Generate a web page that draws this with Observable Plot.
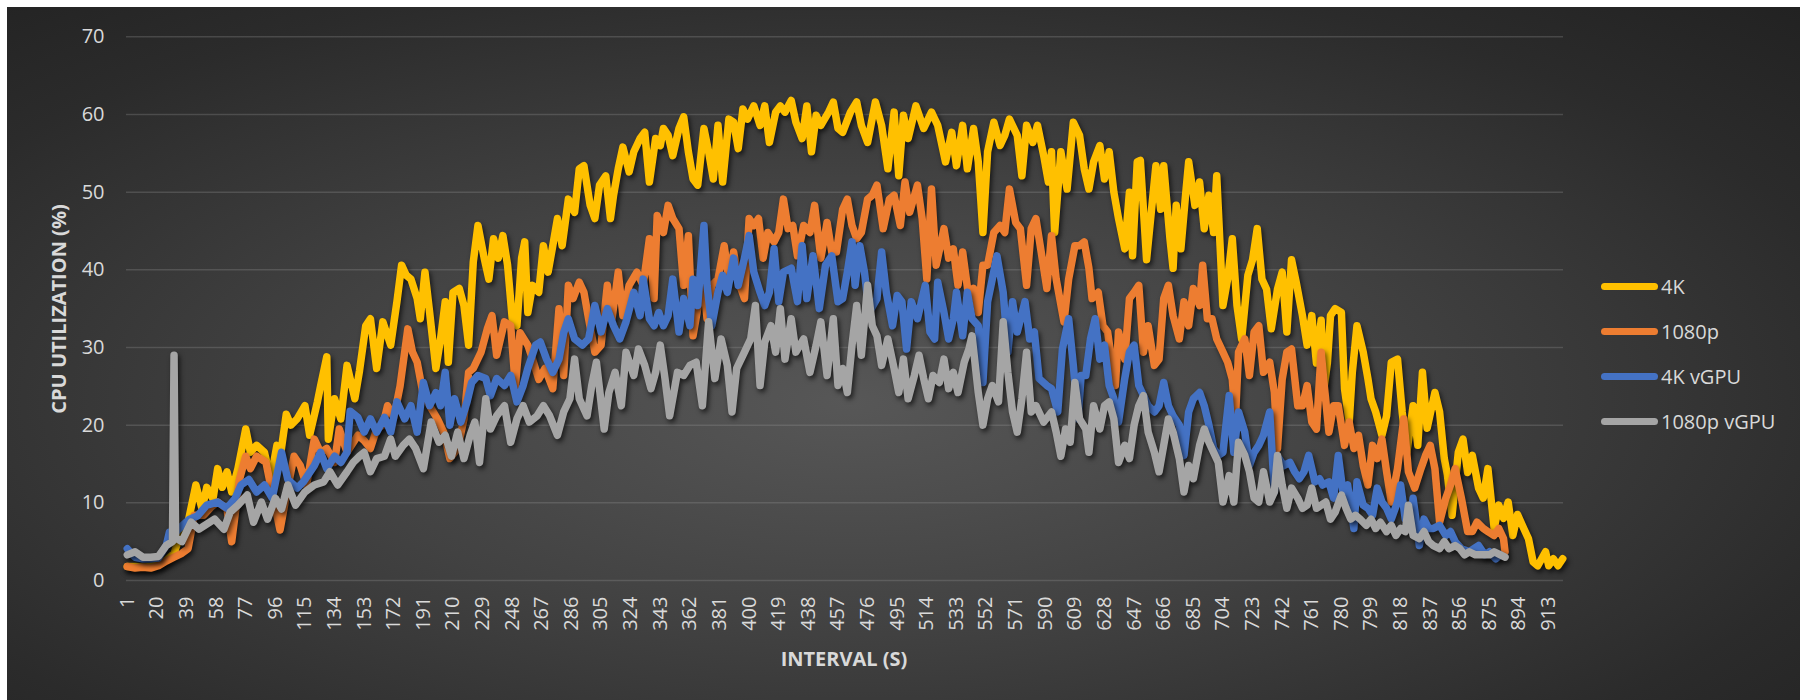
<!DOCTYPE html>
<html>
<head>
<meta charset="utf-8">
<script src="https://cdn.jsdelivr.net/npm/d3@7"></script>
<script src="https://cdn.jsdelivr.net/npm/@observablehq/plot@0.6"></script>
<style>
  html, body { margin: 0; padding: 0; background: #ffffff; }
  body { width: 1800px; height: 700px; overflow: hidden; position: relative; font-family: "Open Sans", "Noto Sans", sans-serif; }
  #panel {
    position: absolute; left: 7px; top: 7px; width: 1793px; height: 693px;
    background: radial-gradient(ellipse farthest-corner at 47% 57%, #575757 0%, #424242 40%, #2b2b2b 78%, #222222 100%);
    overflow: hidden;
  }
  #chart { position: absolute; left: 0; top: 0; }
  .ytitle {
    position: absolute; left: 51px; top: 302px; color: #d9d9d9; font-weight: 700; font-size: 20px;
    transform: translate(-50%, -50%) rotate(-90deg); white-space: nowrap;
  }
  .xtitle {
    position: absolute; left: 837px; top: 651px; color: #d9d9d9; font-weight: 700; font-size: 20px;
    transform: translate(-50%, -50%); white-space: nowrap;
  }
  .legend { position: absolute; left: 1594px; top: 0; }
  .item { position: absolute; left: 0; height: 30px; display: flex; align-items: center; white-space: nowrap; color: #d9d9d9; font-size: 20px; transform: translateY(-50%); }
  .swatch { width: 57px; height: 7px; border-radius: 4px; margin-right: 3px; }
</style>
</head>
<body>
<div id="panel">
  <div id="chart"></div>
  <div class="ytitle">CPU UTILIZATION (%)</div>
  <div class="xtitle">INTERVAL (S)</div>
  <div class="legend" id="legend"></div>
</div>
<script>
// Series names and colours
const seriesNames = ["4K", "1080p", "4K vGPU", "1080p vGPU"];
const seriesColors = ["#FFC000", "#ED7D31", "#4472C4", "#A5A5A5"];

// x tick labels (interval, seconds)
const tickLabels = [1,20,39,58,77,96,115,134,153,172,191,210,229,248,267,286,305,324,343,362,381,400,419,438,457,476,495,514,533,552,571,590,609,628,647,666,685,704,723,742,761,780,799,818,837,856,875,894,913];
const yTicks = [0,10,20,30,40,50,60,70];

// [interval, CPU utilization %]
const k4 = [[1,1.8],[6,1.8],[11,1.7],[16,1.8],[21,2.0],[26,2.6],[31,3.5],[36,6.5],[40,7.5],[45,12.3],[49,9.2],[52,12],[56,10.5],[59,14.4],[62,12],[65,14],[68,11.4],[72,14.4],[77,19.5],[80,16.5],[84,17.4],[89,16.5],[93,13],[97,17.4],[99,15.7],[103,21.4],[106,20],[110,20.8],[115,22.5],[118,18.7],[123,23],[125,25],[129,28.8],[130,18.2],[134,23.4],[138,20.8],[142,27.7],[144,26],[147,23.4],[150,27],[154,32.8],[157,33.7],[161,27.3],[165,33.3],[170,30.3],[174,35.9],[177,40.6],[180,39.3],[183,38.8],[187,36.3],[189,33.7],[192,39.7],[195,34.5],[199,27.3],[202,31.1],[205,35.9],[207,28.1],[210,37.1],[214,37.6],[217,35.4],[220,30.3],[223,41],[226,45.7],[230,41.5],[233,38.8],[236,44],[239,41.5],[242,44.4],[245,40.6],[248,33.7],[251,32.8],[254,41.5],[256,43.6],[258,34.5],[261,38],[265,37.1],[268,43.1],[271,39.7],[274,43.1],[277,46.6],[280,43.1],[284,49.1],[288,47.4],[291,53],[294,53.4],[298,48.3],[301,46.6],[304,50.9],[308,52.1],[311,46.6],[313,49.6],[316,53],[319,55.8],[323,52.6],[326,55.2],[330,56.9],[333,57.7],[336,51.3],[340,56.9],[343,56],[345,58.2],[348,57.3],[351,54.7],[355,58.2],[358,59.7],[361,55.2],[364,51.7],[367,50.9],[371,58.2],[374,55.2],[377,51.7],[380,58.6],[383,51.3],[387,59.4],[390,59],[393,55.6],[396,60.7],[399,59.4],[403,61.1],[407,58.6],[410,61.1],[413,56.4],[417,60.3],[420,61.1],[423,60.3],[427,61.8],[430,59],[434,56.9],[437,61.1],[440,55.2],[443,59.9],[446,58.6],[451,60.3],[454,61.6],[457,58.2],[460,57.7],[465,60.3],[469,61.6],[472,58.6],[476,56.4],[481,61.6],[485,58.6],[489,53],[493,60.3],[496,52.1],[499,59.9],[502,56.9],[507,61.1],[512,58.2],[517,60.3],[521,58.6],[526,53.9],[530,57.7],[533,53.4],[537,58.6],[540,53],[544,58.2],[547,53.9],[550,44.8],[553,55.2],[557,59],[561,56],[564,57.3],[567,59.4],[572,57.3],[575,52.1],[578,58.6],[582,56.4],[585,58.6],[589,54.7],[592,51.3],[594,55.2],[596,44.8],[600,55.2],[604,50.4],[608,59],[612,57.3],[615,53],[618,50.4],[621,53.9],[625,56],[628,51.7],[631,55.2],[634,50],[637,46.6],[641,42.7],[644,50],[646,41.8],[649,53.9],[651,54.1],[655,41.3],[658,47.4],[661,53.4],[664,47.8],[666,53.4],[670,44],[672,40.2],[674,48.3],[677,42.7],[680,49.6],[682,53.9],[686,48.3],[689,51.3],[692,45.3],[695,49.6],[698,44.8],[700,52.1],[704,35.4],[707,38.8],[710,44],[713,35.4],[716,31.1],[720,39.3],[723,41.3],[726,45.3],[729,38.8],[732,37.5],[735,32.4],[739,37.5],[742,39.7],[745,32],[748,41.3],[751,38.4],[755,34.1],[758,30.3],[761,34.1],[764,28],[767,33.5],[769,25],[771,28],[773,34.1],[776,35],[780,34.5],[782,24.7],[785,20.4],[787,26.8],[790,32.8],[794,29.4],[797,26],[799,23.4],[802,21.7],[806,18.7],[809,21.2],[812,28.1],[816,28.5],[819,21.7],[822,16.5],[826,22.5],[829,17.4],[832,26.8],[835,19.6],[840,24.2],[843,21.7],[846,15.7],[848,13.6],[851,8.4],[855,16.5],[858,18.2],[861,13.9],[864,16.1],[868,11.9],[871,10.6],[874,14.4],[878,6.7],[881,9.7],[884,8],[887,10.1],[890,5.8],[893,8.5],[897,6.7],[900,5.4],[903,2.4],[906,1.9],[911,3.7],[913,1.9],[916,2.8],[919,1.9],[922,2.8]];

const p1080 = [[1,1.8],[6,1.6],[11,1.7],[16,1.6],[21,1.9],[26,2.5],[31,3.0],[36,3.5],[40,4.1],[44,8.4],[50,8.4],[55,9.5],[59,10.1],[65,9.2],[68,5],[73,13],[77,16],[80,14.4],[84,16],[90,15.2],[93,12.2],[99,6.5],[104,12],[108,16],[112,14.8],[116,12.2],[121,18.2],[125,16.5],[129,17],[134,15.2],[137,19.5],[142,16.5],[149,18.7],[153,18],[157,17],[161,19.5],[165,20],[168,22.5],[172,21],[176,25],[181,32.4],[184,29.4],[187,28.1],[191,23.8],[195,22.5],[200,20.8],[204,19.1],[208,15.7],[213,17],[217,20.8],[220,26.8],[223,27.3],[228,29.4],[232,32.4],[235,34.1],[238,29],[243,33.3],[247,32.8],[250,25],[253,31.9],[258,30.3],[261,28.5],[265,25.9],[269,27.3],[274,24.7],[278,35],[281,26.4],[284,38],[287,36.3],[291,38.4],[294,37.1],[297,33.7],[301,29.4],[305,30.3],[309,38],[312,33.7],[316,39.7],[319,34.1],[323,38],[328,39.7],[332,38],[336,44],[339,36.3],[341,47],[345,44.8],[348,48.3],[351,46.6],[355,45.3],[358,38],[361,44.4],[364,31.5],[367,35],[370,39.7],[373,33.7],[376,38],[380,38.8],[384,43.1],[387,38.8],[390,42.3],[394,38],[397,36.3],[400,46.6],[403,45.7],[406,46.6],[409,41.5],[412,44.8],[416,43.6],[419,44.8],[422,49.1],[425,45.3],[428,45.7],[431,41.8],[435,45.7],[439,44.8],[442,48.3],[446,41.5],[450,46.1],[453,42.3],[456,42.3],[460,47.8],[463,49.1],[466,45.7],[469,44],[472,44.8],[476,49.1],[479,49.6],[482,50.9],[486,45.3],[490,49.1],[493,49.6],[497,45.7],[500,51.3],[503,47.4],[508,50.9],[511,46.6],[514,38.8],[517,50.4],[520,40.6],[525,45.3],[528,41.5],[531,42.7],[534,38],[537,42.3],[541,36.3],[544,37.6],[547,34.5],[550,40.6],[553,40.6],[557,44.8],[561,45.7],[564,44.8],[567,50.4],[571,46.1],[574,45.3],[578,38],[581,45.3],[584,46.6],[588,41.5],[591,37.6],[594,44.4],[597,38.8],[602,33.3],[605,38.8],[609,43.1],[612,43.1],[615,43.6],[618,40.2],[620,36.3],[624,37.1],[627,32.8],[630,32],[633,27.7],[635,25.1],[637,32],[641,28.5],[644,36.3],[647,37.1],[650,38],[653,29.4],[656,32.8],[660,27.7],[663,28.5],[666,36.3],[669,38],[672,34.1],[676,31.1],[679,35.9],[682,32.8],[685,37.6],[689,35.4],[691,40.6],[694,33.7],[697,33.7],[700,31.1],[704,29.4],[707,28.1],[710,25.9],[712,20.8],[714,29.4],[718,31.1],[721,26.4],[724,32],[727,32.8],[730,26.8],[734,28.1],[737,24.2],[739,17],[742,25.9],[745,29.4],[748,29.8],[752,22.5],[755,22.5],[758,25.1],[761,20.4],[764,19.5],[767,29.4],[769,25.1],[772,19.1],[775,22.5],[778,22.5],[782,17.4],[785,20.4],[788,17],[791,18.7],[794,14.8],[797,12.3],[800,17.4],[803,15.7],[806,18.2],[809,14],[812,10.1],[816,14.4],[820,20.8],[823,14],[827,11.9],[831,14.4],[834,16.1],[837,17.4],[840,14.4],[843,7.5],[847,10.6],[850,12.3],[853,14.4],[857,10.6],[861,6.3],[864,6.3],[867,7.5],[871,6.7],[874,6.3],[878,5.8],[881,6.7],[884,5.4],[885,3.7]];

const k4vgpu = [[1,4.1],[6,3.0],[11,2.8],[16,2.8],[21,2.9],[26,4.5],[28,6.2],[31,6],[36,7],[41,7.9],[46,8.3],[52,9.7],[59,10.1],[65,9.3],[70,10.5],[74,12.3],[79,13],[84,11.4],[89,12.3],[94,10.6],[100,16.5],[104,13],[110,11.9],[114,12.7],[121,14.8],[125,16.5],[129,14.4],[134,16],[138,15.2],[142,16.5],[144,21.8],[149,21],[153,19.1],[157,20.8],[161,19.1],[166,21],[170,19.1],[174,23],[179,20.8],[183,22.5],[187,19.1],[191,25.5],[195,22.5],[199,24.2],[202,22.5],[205,26.8],[208,20],[211,23.4],[215,20.4],[219,23],[222,25.5],[226,26.4],[231,26],[234,23.8],[238,26],[243,25.1],[247,26.4],[251,23],[255,25.1],[258,27.3],[263,30.3],[266,30.7],[270,28.5],[274,26.8],[278,28.5],[281,31.9],[284,33.7],[288,31.1],[293,30.3],[297,31.1],[301,35.4],[305,32],[309,35],[313,32.8],[317,31.1],[321,33.3],[326,37.1],[330,34.1],[332,38.8],[336,33.7],[339,32.8],[342,34.5],[345,32.8],[348,34.1],[351,38.8],[355,32],[358,36.3],[362,32.8],[364,38.8],[367,35.4],[371,45.7],[373,38],[376,32.8],[380,37.1],[383,39.3],[386,37.1],[390,41.5],[393,38],[397,41.5],[400,44.4],[403,39.7],[407,37.1],[410,35.4],[413,37.1],[416,42.7],[419,35.9],[422,39.7],[427,40.2],[431,35.9],[434,43.1],[437,36.3],[441,41.8],[445,35],[449,40.6],[453,41.8],[457,35.9],[460,36.3],[463,39.7],[466,43.6],[468,38],[471,43.1],[474,39.7],[477,34.5],[482,36.3],[485,42.3],[488,37.1],[492,32.8],[495,36.7],[498,35.9],[501,29.8],[504,35.9],[508,33.7],[511,36.3],[513,38],[516,32],[519,31.1],[521,38.4],[525,34.5],[528,31.1],[531,33.7],[533,37.1],[537,31.5],[540,37.1],[543,33.7],[547,32.8],[550,25.5],[553,35.9],[556,38.8],[559,41.8],[563,37.1],[566,29.4],[569,35.9],[572,32],[577,35.9],[580,31.1],[583,32],[586,26],[591,25.1],[594,24.7],[598,21.7],[601,29.8],[605,33.7],[608,27.7],[611,20.8],[613,26.4],[616,26.4],[619,31.1],[622,33.7],[625,28.5],[628,30.3],[631,25.1],[634,23.4],[637,20.4],[641,26],[644,29.4],[647,30.3],[650,25.1],[653,23.8],[656,22.5],[660,21.7],[663,22.5],[666,25.5],[669,22.5],[672,21.2],[676,20],[679,16.1],[682,21.7],[685,23.4],[689,24.2],[692,22.5],[695,20],[698,17],[701,16.1],[704,16.5],[708,23.8],[711,16.5],[714,21.7],[718,19.1],[721,14.8],[724,16.5],[727,17.4],[730,18.7],[734,21.7],[737,11.4],[740,15.7],[743,14.8],[747,15.2],[750,14],[753,13.1],[756,14],[759,16.1],[763,12.7],[766,13.1],[768,12.3],[772,12.7],[775,10.6],[778,16.1],[781,11.4],[784,12.3],[788,6.7],[790,12.7],[794,9.7],[797,9.3],[800,8.4],[803,11.9],[806,10.1],[809,9.3],[812,7.9],[816,10.1],[818,12.3],[821,7.9],[824,7.1],[826,10.6],[830,4.5],[833,7.9],[836,6.7],[839,6.7],[843,7.1],[847,5.8],[850,6.3],[853,5],[857,4.1],[862,3.7],[865,4.1],[868,4.5],[872,3.3],[875,3.7],[879,2.8],[882,3.3]];

const p1080vgpu = [[1,3.3],[6,3.7],[11,3.0],[16,3.0],[21,3.1],[26,4.5],[30,5],[31,29],[32,5.5],[36,5],[42,7.5],[47,6.6],[50,7],[57,7.9],[63,6.6],[67,8.8],[72,9.7],[78,11],[82,7.5],[87,10.1],[91,7.9],[96,10.6],[100,9.2],[104,12.3],[109,9.7],[115,11.4],[121,12.3],[127,12.7],[131,14],[136,12.3],[142,14],[146,15.2],[150,16],[153,16.5],[157,14],[161,15.7],[166,16],[170,18.2],[173,16],[178,17.4],[182,18.2],[186,17],[191,14.4],[196,20.4],[201,17.8],[205,18.7],[209,16],[213,19.1],[217,15.7],[221,18.7],[224,20.4],[227,15.2],[231,23.4],[234,19.5],[238,21.2],[243,22.5],[247,17.8],[251,20.8],[255,22.5],[259,20.4],[264,21.2],[268,22.5],[272,21.2],[277,18.7],[281,21.7],[285,23.4],[288,28.5],[291,23.4],[296,21.2],[299,25.1],[302,28.1],[307,19.5],[310,24.2],[314,26.8],[318,22.5],[321,29.4],[326,26.4],[329,29.8],[333,27.7],[337,24.7],[340,26.8],[343,30.3],[346,26],[349,21.2],[354,26.8],[358,26.4],[362,27.7],[366,28.1],[370,22.5],[374,33.3],[378,26],[382,31.1],[386,27.7],[389,21.7],[392,27.3],[397,29.4],[401,31.1],[404,35.4],[407,25.1],[410,30.7],[414,32.8],[417,29.4],[420,35],[423,28.5],[427,33.7],[430,29.4],[435,31.1],[439,26.8],[443,30.3],[446,33.3],[450,26.4],[454,33.7],[457,25.1],[460,27.3],[463,24.2],[466,30.3],[469,35.4],[472,29],[476,38],[479,32.8],[482,31.5],[485,27.7],[489,31.1],[493,27.3],[496,24.2],[499,28.5],[502,23.4],[506,26.4],[509,29],[512,26],[515,23.4],[518,26.4],[522,25.5],[525,28.5],[528,24.7],[531,26.8],[534,24.2],[538,28.1],[541,29.8],[543,31.5],[547,24.2],[550,20],[553,23.4],[556,25.1],[560,23],[563,33.3],[566,26.8],[569,21.7],[572,19.1],[575,23.4],[578,29.4],[581,21.7],[584,22.5],[589,20.4],[594,21.7],[597,19.1],[600,16],[603,19.5],[606,17.8],[609,25.5],[612,20.8],[616,19.5],[618,16.5],[621,22.5],[625,19.5],[628,22.5],[631,23],[634,20.8],[637,15.2],[641,17.4],[644,15.7],[647,20],[650,22.5],[653,23.8],[656,19.1],[660,16.5],[663,14],[666,17.4],[669,20.8],[672,19.1],[676,15.7],[679,11.4],[682,14.8],[685,13.1],[689,17.4],[692,19.5],[695,17.8],[698,16.5],[701,15.2],[704,10.1],[708,13.5],[711,10.1],[714,17.8],[718,16.1],[721,14],[724,10.6],[727,10.1],[730,14],[734,10.1],[737,11.4],[739,16.1],[742,12.3],[745,9.3],[748,11.9],[752,10.6],[755,9.3],[758,9.7],[761,11.9],[764,9.3],[767,9.7],[770,10.1],[773,7.9],[776,8.8],[780,11],[783,9.3],[786,7.9],[789,8.4],[792,7.9],[796,7.1],[799,7.9],[802,6.7],[805,7.5],[809,6.3],[812,7.1],[815,5.8],[818,6.7],[821,6.3],[823,9.7],[826,5.8],[830,5.4],[833,6.3],[836,5],[839,4.5],[843,4.1],[846,5],[849,4.1],[853,4.5],[856,4.1],[859,3.3],[862,3.7],[866,3.3],[869,3.3],[872,3.3],[875,3.3],[878,3.7],[882,3.3],[885,3]];

const seriesData = [k4, p1080, k4vgpu, p1080vgpu];

const W = 1793, H = 693;
const lineMarks = seriesData.map((s, k) =>
  Plot.line(s, {
    x: d => d[0], y: d => d[1],
    stroke: seriesColors[k], strokeWidth: 7.5,
    strokeLinejoin: "round", strokeLinecap: "round"
  })
);

const chart = Plot.plot({
  width: W,
  height: H,
  marginLeft: 119,
  marginRight: 237,
  marginTop: 29.3,
  marginBottom: 120,
  style: { background: "transparent", color: "#d9d9d9", fontFamily: "'Open Sans', 'Noto Sans', sans-serif", fontSize: "20px", overflow: "visible" },
  x: { type: "linear", domain: [0.5, 922.5] },
  y: { domain: [0, 70] },
  marks: [
    Plot.gridY(yTicks, { stroke: "#9a9a9a", strokeOpacity: 0.28, strokeWidth: 1.5 }),
    Plot.axisY(yTicks, { tickSize: 0, tickPadding: 22, fontSize: 20, label: null, fill: "#d9d9d9" }),
    Plot.axisX(tickLabels, { tickSize: 0, tickPadding: 16, tickRotate: -90, fontSize: 20, label: null, fill: "#d9d9d9", tickFormat: d => String(d) }),
    ...lineMarks
  ]
});

document.getElementById("chart").appendChild(chart);

// drop shadow for series lines
const svg = chart.tagName.toLowerCase() === "svg" ? chart : chart.querySelector("svg");
svg.querySelectorAll('g[aria-label="line"]').forEach(g => {
  g.style.filter = "drop-shadow(2px 3px 2.5px rgba(0,0,0,0.65))";
});

// legend
const legendY = [279, 324, 369, 414];
const legend = document.getElementById("legend");
seriesNames.forEach((name, k) => {
  const item = document.createElement("div");
  item.className = "item";
  item.style.top = legendY[k] + "px";
  const sw = document.createElement("div");
  sw.className = "swatch";
  sw.style.background = seriesColors[k];
  const t = document.createElement("span");
  t.textContent = name;
  item.appendChild(sw);
  item.appendChild(t);
  legend.appendChild(item);
});
</script>
</body>
</html>
